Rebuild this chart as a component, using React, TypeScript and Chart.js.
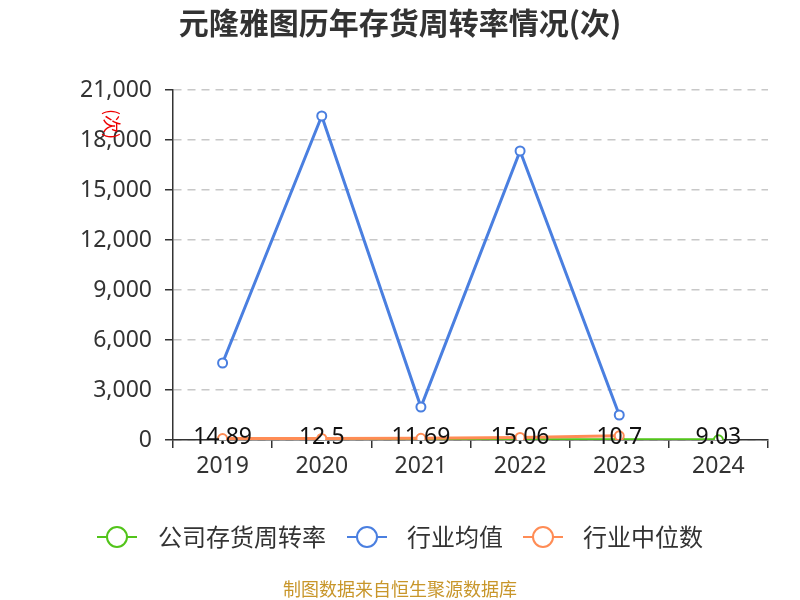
import React, { useEffect, useRef } from "react";
import { Chart, registerables } from "chart.js";
Chart.register(...registerables);

const title = "元隆雅图历年存货周转率情况(次)";
const source = "制图数据来自恒生聚源数据库";
const unitLabel = "(次)";
const years = ["2019", "2020", "2021", "2022", "2023", "2024"];
const companyTurnover = [14.89, 12.5, 11.69, 15.06, 10.7, 9.03];
const industryMean = [4620, 19440, 1980, 17340, 1500, null];
const industryMedian = [85, 95, 100, 150, 250, null];
const seriesNames = ["公司存货周转率", "行业均值", "行业中位数"];
const colors = ["#52c41a", "#4a7fe0", "#ff8c55"];
const yTicks = [0, 3000, 6000, 9000, 12000, 15000, 18000, 21000];

const FONT = "'Noto Sans CJK SC', 'Noto Sans', sans-serif";
const NUM_FONT = "'Noto Sans', 'Noto Sans CJK SC', sans-serif";

const overlay = {
  id: "overlay",
  afterDatasetsDraw(chart: any) {
    const ctx = chart.ctx;
    const xs = chart.scales.x;
    const ys = chart.scales.y;
    ctx.save();
    ctx.font = `23px ${NUM_FONT}`;
    ctx.fillStyle = "#111";
    ctx.textAlign = "center";
    ctx.textBaseline = "middle";
    companyTurnover.forEach((v, i) => {
      ctx.fillText(String(v), xs.getPixelForValue(i), ys.getPixelForValue(v) - 2);
    });
    ctx.restore();
  },
  afterDraw(chart: any) {
    const ctx = chart.ctx;
    ctx.save();
    ctx.font = `bold 30px ${FONT}`;
    ctx.fillStyle = "#333";
    ctx.textAlign = "center";
    ctx.textBaseline = "middle";
    ctx.fillText(title, 400, 23);
    ctx.font = `18px ${FONT}`;
    ctx.fillStyle = "#c8962a";
    ctx.fillText(source, 400, 589);
    ctx.save();
    ctx.translate(112, 124);
    ctx.rotate(Math.PI / 2);
    ctx.font = `18px ${FONT}`;
    ctx.fillStyle = "#e00";
    ctx.fillText(unitLabel, 0, 0);
    ctx.restore();
    const items = [
      { cx: 117, tx: 158 },
      { cx: 367, tx: 407 },
      { cx: 543, tx: 583 },
    ];
    const ly = 537;
    items.forEach((it, i) => {
      ctx.strokeStyle = colors[i];
      ctx.lineWidth = 2;
      ctx.beginPath();
      ctx.moveTo(it.cx - 20, ly);
      ctx.lineTo(it.cx + 20, ly);
      ctx.stroke();
      ctx.beginPath();
      ctx.arc(it.cx, ly, 10, 0, Math.PI * 2);
      ctx.fillStyle = "#fff";
      ctx.fill();
      ctx.stroke();
      ctx.font = `24px ${FONT}`;
      ctx.fillStyle = "#333";
      ctx.textAlign = "left";
      ctx.textBaseline = "middle";
      ctx.fillText(seriesNames[i], it.tx, ly);
    });
    ctx.restore();
  },
};

export default function App() {
  const ref = useRef<HTMLCanvasElement>(null);
  useEffect(() => {
    const mk = (data: any[], i: number, order: number) => ({
      label: seriesNames[i],
      data,
      borderColor: colors[i],
      backgroundColor: "#fff",
      pointBackgroundColor: "#fff",
      pointBorderColor: colors[i],
      pointBorderWidth: 2,
      pointRadius: 4.5,
      borderWidth: 3,
      tension: 0,
      order,
    });
    const chart = new Chart(ref.current!, {
      type: "line",
      data: {
        labels: years,
        datasets: [
          mk(companyTurnover, 0, 2),
          mk(industryMean, 1, 1),
          mk(industryMedian, 2, 0),
        ],
      },
      options: {
        animation: false,
        responsive: false,
        events: [],
        layout: { padding: { left: 0, right: 32, top: 90, bottom: 0 } },
        plugins: { legend: { display: false }, title: { display: false }, tooltip: { enabled: false } },
        scales: {
          x: {
            offset: true,
            grid: { display: true, drawOnChartArea: false, offset: true, color: "#333", tickLength: 8, lineWidth: 1.5 },
            border: { color: "#333", width: 1.5 },
            ticks: { color: "#333", font: { size: 23, family: NUM_FONT }, padding: 5 },
            afterFit: (s: any) => { s.height = 160; },
          },
          y: {
            min: 0,
            max: 21000,
            afterBuildTicks: (s: any) => { s.ticks = yTicks.map((v) => ({ value: v })); },
            grid: { color: "#c8c8c8", tickColor: "#333", tickLength: 8, lineWidth: 1.5 },
            border: { color: "#333", width: 1.5, dash: [8, 6] },
            ticks: {
              color: "#333",
              font: { size: 23, family: NUM_FONT },
              padding: 13,
              callback: (v: any) => Number(v).toLocaleString("en-US"),
            },
            afterFit: (s: any) => { s.width = 173; },
          },
        },
      },
      plugins: [overlay],
    });
    return () => chart.destroy();
  }, []);
  return (
    <div style={{ position: "absolute", left: 0, top: 0, width: 800, height: 600 }}>
      <canvas ref={ref} width={800} height={600} style={{ width: 800, height: 600 }} />
    </div>
  );
}
